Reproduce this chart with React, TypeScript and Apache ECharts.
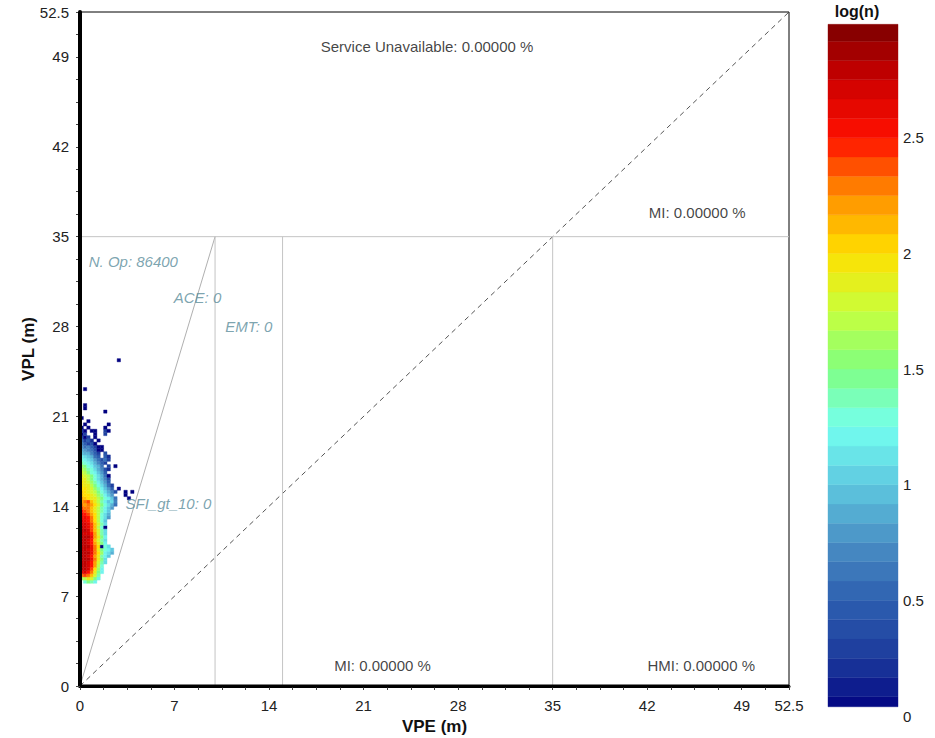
import React, { useEffect, useRef } from 'react';
import * as echarts from 'echarts';

const _ = null;

// axis layout values (metres)
const axisMax = 52.5;
const minorStep = 1.75;
const tickLabels = [0, 7, 14, 21, 28, 35, 42, 49, 52.5];

// heat map: cells of 0.25 m, rows start at VPL = 8.0 m, columns start at VPE = 0 m
const heatCell = 0.25;
const heatYStart = 8.0;
const heatRows: (number | null)[][] = [
  /* 8.00 */ [_, 1.3, 1.5, 1.4, 1.2],
  /* 8.25 */ [1.6, 1.7, 1.9, 1.8, 1.5, 1.2],
  /* 8.50 */ [2.3, 2.4, 2.3, 2.1, 1.8, 1.4],
  /* 8.75 */ [2.6, 2.7, 2.5, 2.3, 1.9, 1.5, 1.2],
  /* 9.00 */ [2.8, 2.8, 2.7, 2.4, 2.0, 1.6, 1.2],
  /* 9.25 */ [2.8, 2.8, 2.7, 2.5, 2.2, 1.7, 1.3],
  /* 9.50 */ [2.8, 2.8, 2.7, 2.5, 2.2, 1.8, 1.4, 1.1],
  /* 9.75 */ [2.8, 2.8, 2.8, 2.6, 2.3, 1.9, 1.5, 1.1],
  /* 10.00 */ [2.8, 2.8, 2.7, 2.5, 2.2, 1.9, 1.4, 1.2, 1.0],
  /* 10.25 */ [2.8, 2.8, 2.8, 2.6, 2.3, 2.0, 1.6, 1.2, 1.1, 0.9],
  /* 10.50 */ [2.8, 2.8, 2.7, 2.6, 2.3, 1.9, 1.5, 1.3, 1.2, 1.0],
  /* 10.75 */ [2.8, 2.8, 2.8, 2.6, 2.3, 2.0, 0.0, 1.3, 1.1],
  /* 11.00 */ [2.8, 2.8, 2.7, 2.5, 2.2, 1.9, 1.5, 1.2],
  /* 11.25 */ [2.8, 2.8, 2.7, 2.5, 2.1, 1.8, 1.4, 1.1],
  /* 11.50 */ [2.8, 2.8, 2.8, 2.6, 2.2, 1.9, 1.5, 1.2],
  /* 11.75 */ [2.8, 2.7, 2.7, 2.5, 2.2, 1.8, 1.4, 1.1],
  /* 12.00 */ [2.8, 2.8, 2.7, 2.4, 2.1, 1.8, 1.4, 1.1],
  /* 12.25 */ [2.8, 2.7, 2.6, 2.4, 2.1, 1.7, 1.3, 0.0],
  /* 12.50 */ [2.7, 2.7, 2.6, 2.4, 2.1, 1.8, 1.4, 1.1],
  /* 12.75 */ [2.7, 2.6, 2.5, 2.3, 2.0, 1.7, 1.3, 1.0],
  /* 13.00 */ [2.6, 2.6, 2.5, 2.3, 2.0, 1.7, 1.3, 1.1, 0.8],
  /* 13.25 */ [2.6, 2.5, 2.4, 2.2, 2.0, 1.7, 1.3, 1.1, 0.9],
  /* 13.50 */ [2.5, 2.4, 2.3, 2.1, 1.9, 1.7, 1.4, 1.2, 1.0],
  /* 13.75 */ [2.4, 2.3, 2.3, 2.1, 1.9, 1.7, 1.4, 1.2, 1.0, 0.8],
  /* 14.00 */ [2.3, 2.2, 2.3, 2.2, 2.0, 1.8, 1.5, 1.3, 1.1, 0.9, 0.6],
  /* 14.25 */ [2.2, 2.3, 2.4, 2.1, 1.9, 1.7, 1.4, 1.2, 1.0, 1.1, 0.7],
  /* 14.50 */ [2.2, 2.1, 2.0, 1.9, 1.9, 1.7, 1.5, 1.3, 1.2, 1.0, 0.6, _, _, _, 0.0],
  /* 14.75 */ [2.1, 2.0, 2.0, 1.9, 1.8, 1.6, 1.4, 1.2, 1.0, 0.8, _, _, _, 0.0],
  /* 15.00 */ [2.1, 2.0, 1.9, 1.8, 1.7, 1.5, 1.3, 1.1, 0.9, 0.7, 0.4, _, _, 0.0, _, 0.0],
  /* 15.25 */ [2.0, 2.0, 1.9, 1.8, 1.6, 1.4, 1.2, 1.0, 0.8, 0.5, _, 0.0],
  /* 15.50 */ [2.0, 1.9, 1.9, 1.7, 1.5, 1.3, 1.1, 0.9, 0.6, 0.3],
  /* 15.75 */ [2.0, 1.9, 1.8, 1.6, 1.4, 1.2, 1.0, 0.8, 0.5],
  /* 16.00 */ [1.9, 1.9, 1.7, 1.5, 1.3, 1.1, 0.9, 0.7, 0.4],
  /* 16.25 */ [1.9, 1.8, 1.7, 1.5, 1.3, 1.1, 0.9, 0.6, 0.0],
  /* 16.50 */ [1.8, 1.7, 1.5, 1.3, 1.2, 1.0, 0.8, 0.5],
  /* 16.75 */ [1.7, 1.6, 1.4, 1.3, 1.1, 0.9, 0.7, 0.4, 0.2],
  /* 17.00 */ [1.6, 1.5, 1.3, 1.2, 1.0, 0.9, 0.6, _, 0.3, _, 0.0],
  /* 17.25 */ [1.4, 1.3, 1.2, 1.1, 0.9, 0.7, 0.5, 0.3],
  /* 17.50 */ [1.3, 1.2, 1.1, 1.0, 0.8, 0.6, 0.4, 0.6, 0.3],
  /* 17.75 */ [1.2, 1.1, 1.0, 0.9, 0.6, 0.5, _, 0.5, 0.2],
  /* 18.00 */ [1.0, 0.9, 0.9, 0.7, 0.5, 0.3, _, 0.4],
  /* 18.25 */ [0.9, 0.8, 0.7, 0.6, 0.4, 0.0, 0.0],
  /* 18.50 */ [0.8, 0.6, 0.7, 0.5, 0.3, 0.0, 0.0],
  /* 18.75 */ [0.7, 0.5, 0.3, 0.4, 0.0],
  /* 19.00 */ [0.6, 0.3, 0.5, 0.2, _, 0.0],
  /* 19.25 */ [0.4, 0.0, 0.3, _, 0.0],
  /* 19.50 */ [0.0, 0.3, _, _, 0.0, _, _, 0.3],
  /* 19.75 */ [0.3, 0.0, _, 0.0, 0.0, _, _, 0.3, 0.0],
  /* 20.00 */ [0.0, _, 0.0, _, _, _, _, 0.0],
  /* 20.25 */ [_, 0.0, _, _, _, _, _, _, 0.0],
  /* 20.50 */ [_, _, 0.0],
  /* 20.75 */ [0.0],
  /* 21.00 */ [],
  /* 21.25 */ [_, _, _, _, _, _, _, 0.0],
  /* 21.50 */ [_, 0.0],
  /* 21.75 */ [_, 0.0],
  /* 22.00 */ [],
  /* 22.25 */ [],
  /* 22.50 */ [],
  /* 22.75 */ [],
  /* 23.00 */ [_, 0.0],
];
const heatOutliers = [[2.75, 25.25, 0.0]];

// reference lines (VPE, VPL)
const diagonalLine = [[0, 0], [52.5, 52.5]];
const alertLimitLine = [[0, 35], [52.5, 35]];
const slopeLine = [[0, 0], [10, 35]];
const verticalLines = [
  [[10, 0], [10, 35]],
  [[15, 0], [15, 35]],
  [[35, 0], [35, 35]],
];
const leftFrame = [[0, 0], [0, 52.5]];
const bottomFrame = [[0, 0], [52.5, 0]];

// annotations (VPE, VPL of text centre)
const blackNotes = [
  { text: 'Service Unavailable: 0.00000 %', x: 25.7, y: 49.8 },
  { text: 'MI: 0.00000 %', x: 45.7, y: 36.9 },
  { text: 'MI: 0.00000 %', x: 22.4, y: 1.6 },
  { text: 'HMI: 0.00000 %', x: 46.0, y: 1.6 },
];
const tealNotes = [
  { text: 'N. Op: 86400', x: 3.95, y: 33.1 },
  { text: 'ACE: 0', x: 8.7, y: 30.25 },
  { text: 'EMT: 0', x: 12.5, y: 28.0 },
  { text: 'SFI_gt_10: 0', x: 6.55, y: 14.2 },
];

// colour scale log(n)
const colorMin = 0;
const colorMax = 3;
const colorStops = [
  '#000080', '#1c3a9c', '#2d5fb0', '#4a8fc4', '#5ec8e0', '#74fff0', '#80ff80',
  '#c8ff3c', '#ffe000', '#ff9000', '#ff1000', '#cc0000', '#7a0000',
];
const colorbarLabels = [0, 0.5, 1, 1.5, 2, 2.5];
const colorbarRange = [0.04, 2.99];
const colorbarBands = 36;

const FONT = 'Liberation Sans, Arial, sans-serif';

function isTickLabel(v: number, list: number[]) {
  return list.some((t) => Math.abs(t - v) < 1e-6);
}

export default function App() {
  const ref = useRef<HTMLDivElement>(null);

  useEffect(() => {
    if (!ref.current) return;
    const chart = echarts.init(ref.current, undefined, { renderer: 'svg' });

    const heatData: number[][] = [];
    heatRows.forEach((row, r) => {
      row.forEach((v, c) => {
        if (v !== null && v !== undefined) {
          heatData.push([c * heatCell, heatYStart + r * heatCell, v]);
        }
      });
    });
    heatOutliers.forEach((p) => heatData.push(p));

    const bandData: number[][] = [];
    const step = (colorMax - colorMin) / colorbarBands;
    for (let k = 0; k < colorbarBands; k++) {
      const lo = Math.max(colorMin + k * step, colorbarRange[0]);
      const hi = Math.min(colorMin + (k + 1) * step, colorbarRange[1]);
      if (hi > lo) bandData.push([lo, hi, colorMin + (k + 0.5) * step]);
    }

    const lineSeries = (data: number[][], color: string, dashed = false, width = 1, z = 1) => ({
      type: 'line',
      xAxisIndex: 0,
      yAxisIndex: 0,
      data,
      symbol: 'none',
      silent: true,
      clip: false,
      z,
      lineStyle: { color, width, type: dashed ? [5, 4] : 'solid' },
    });

    const noteSeries = (notes: typeof blackNotes, style: any) => ({
      type: 'scatter',
      xAxisIndex: 0,
      yAxisIndex: 0,
      silent: true,
      symbolSize: 1,
      itemStyle: { color: 'transparent' },
      z: 4,
      data: notes.map((n) => ({ value: [n.x, n.y], name: n.text })),
      label: {
        show: true,
        position: 'inside',
        formatter: (p: any) => p.name,
        fontFamily: FONT,
        ...style,
      },
    });

    const series: any[] = [
      lineSeries(diagonalLine, '#555555', true),
      lineSeries(alertLimitLine, '#c4c4c4'),
      lineSeries(slopeLine, '#b0b0b0'),
      ...verticalLines.map((l) => lineSeries(l, '#c4c4c4')),
    ];
    const heatIndex = series.length;
    series.push({
      type: 'custom',
      xAxisIndex: 0,
      yAxisIndex: 0,
      silent: true,
      z: 2,
      data: heatData,
      renderItem: (params: any, api: any) => {
        const x = api.value(0);
        const y = api.value(1);
        const p0 = api.coord([x, y + heatCell]);
        const p1 = api.coord([x + heatCell, y]);
        const color = api.visual('color');
        return {
          type: 'rect',
          shape: { x: p0[0], y: p0[1], width: p1[0] - p0[0], height: p1[1] - p0[1] },
          style: { fill: color, stroke: color, lineWidth: 0.4 },
        };
      },
    });
    series.push(noteSeries(blackNotes, { color: '#111', fontSize: 15 }));
    series.push(noteSeries(tealNotes, { color: '#5b8d9b', fontSize: 15, fontStyle: 'italic' }));
    series.push(lineSeries(leftFrame, '#000', false, 4, 6));
    series.push(lineSeries(bottomFrame, '#000', false, 3, 6));
    const barIndex = series.length;
    series.push({
      type: 'custom',
      xAxisIndex: 1,
      yAxisIndex: 1,
      silent: true,
      data: bandData,
      renderItem: (params: any, api: any) => {
        const p0 = api.coord([0, api.value(1)]);
        const p1 = api.coord([1, api.value(0)]);
        const color = api.visual('color');
        return {
          type: 'rect',
          shape: { x: p0[0], y: p0[1], width: p1[0] - p0[0], height: p1[1] - p0[1] },
          style: { fill: color, stroke: color, lineWidth: 0.4 },
        };
      },
    });

    const mainAxis = (name: string, isY: boolean) => ({
      type: 'value',
      gridIndex: 0,
      min: 0,
      max: axisMax,
      interval: minorStep,
      name,
      nameLocation: 'middle',
      nameGap: isY ? 43 : 32,
      nameMoveOverlap: false,
      nameTextStyle: { fontFamily: FONT, fontWeight: 'bold', fontSize: 17, color: '#111' },
      z: 5,
      axisLine: { show: true, lineStyle: { color: '#000', width: isY ? 4 : 3 } },
      axisTick: { show: true, length: 4, lineStyle: { color: '#444', width: 1 } },
      axisLabel: {
        show: true,
        interval: 0,
        margin: isY ? 11 : 12,
        fontFamily: FONT,
        fontSize: 15,
        color: '#222',
        formatter: (v: number) => (isTickLabel(v, tickLabels) ? String(v) : ''),
      },
      splitLine: { show: false },
    });

    chart.setOption({
      animation: false,
      textStyle: { fontFamily: FONT },
      grid: [
        { left: 80, top: 12, width: 709, height: 674, show: true, borderColor: '#000', borderWidth: 1, backgroundColor: 'transparent', outerBoundsMode: 'none', containLabel: false },
        { left: 828, top: 22, width: 70, height: 694, outerBoundsMode: 'none', containLabel: false },
      ],
      xAxis: [
        mainAxis('VPE (m)', false),
        { type: 'value', gridIndex: 1, min: 0, max: 1, show: false },
      ],
      yAxis: [
        mainAxis('VPL (m)', true),
        {
          type: 'value',
          gridIndex: 1,
          position: 'right',
          min: colorMin,
          max: colorMax,
          interval: 0.5,
          axisLine: { show: false },
          axisTick: { show: false },
          splitLine: { show: false },
          axisLabel: {
            margin: 5,
            fontFamily: FONT,
            fontSize: 15,
            color: '#222',
            formatter: (v: number) => (isTickLabel(v, colorbarLabels) ? String(v) : ''),
          },
        },
      ],
      visualMap: {
        type: 'continuous',
        show: false,
        min: colorMin,
        max: colorMax,
        dimension: 2,
        seriesIndex: [heatIndex, barIndex],
        inRange: { color: colorStops },
      },
      graphic: [
        {
          type: 'text',
          x: 857,
          y: 3,
          style: { text: 'log(n)', fontFamily: FONT, fontWeight: 'bold', fontSize: 16, fill: '#111', textAlign: 'center' },
        },
      ],
      series,
    });

    return () => chart.dispose();
  }, []);

  return <div ref={ref} style={{ position: 'absolute', left: 0, top: 0, width: 935, height: 738 }} />;
}
